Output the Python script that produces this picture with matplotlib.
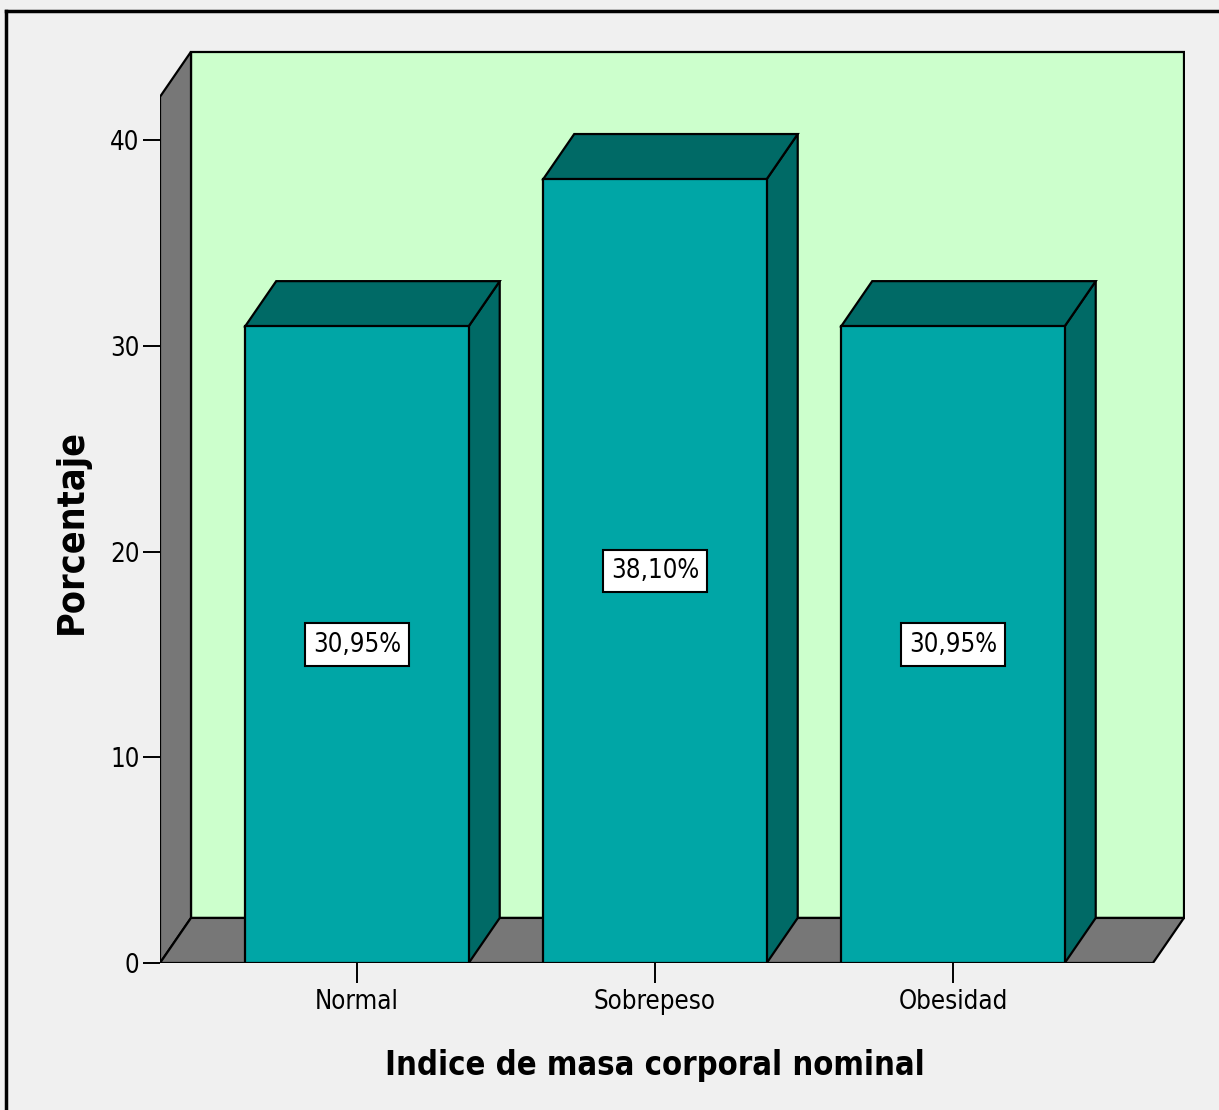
import matplotlib.pyplot as plt
from matplotlib.patches import Polygon, Rectangle
from matplotlib.lines import Line2D

categories = ['Normal', 'Sobrepeso', 'Obesidad']
percentages = [30.95, 38.10, 30.95]
value_labels = ['30,95%', '38,10%', '30,95%']
yticks = [0, 10, 20, 30, 40]

# 3D look: depth offsets (category units, percent units)
dx, dy = 0.104, 2.19
x_lo, x_hi = -0.661, 2.671
y_top = 42.1
bar_w = 0.75

wall_green = '#ccffcc'
side_gray = '#777777'
bar_front = '#00a6a6'
bar_dark = '#006a66'

font = dict(family='DejaVu Sans', fontstretch='condensed')

W, H = 1219, 1110
fig = plt.figure(figsize=(W / 100, H / 100), dpi=100, facecolor='#f0f0f0')
ax = fig.add_axes([160 / W, (H - 963) / H, 1025 / W, 913 / H])
ax.set_xlim(x_lo, x_lo + 1025 / 298)
ax.set_ylim(0, 913 / 20.575)
ax.set_facecolor('none')
for s in ax.spines.values():
    s.set_visible(False)

lw = 1.6
# back wall, left wall and floor
ax.add_patch(Rectangle((x_lo + dx, dy), x_hi - x_lo, y_top, fc=wall_green, ec='black', lw=lw))
ax.add_patch(Polygon([(x_lo, 0), (x_lo, y_top), (x_lo + dx, y_top + dy), (x_lo + dx, dy)],
                     closed=True, fc=side_gray, ec='black', lw=lw))
ax.add_patch(Polygon([(x_lo, 0), (x_lo + dx, dy), (x_hi + dx, dy), (x_hi, 0)],
                     closed=True, fc=side_gray, ec='black', lw=lw))

for i, (v, lab) in enumerate(zip(percentages, value_labels)):
    l, r = i - bar_w / 2, i + bar_w / 2
    ax.add_patch(Polygon([(r, 0), (r + dx, dy), (r + dx, v + dy), (r, v)],
                         closed=True, fc=bar_dark, ec='black', lw=lw))
    ax.add_patch(Polygon([(l, v), (l + dx, v + dy), (r + dx, v + dy), (r, v)],
                         closed=True, fc=bar_dark, ec='black', lw=lw))
    ax.add_patch(Rectangle((l, 0), bar_w, v, fc=bar_front, ec='black', lw=lw))
    ax.text(i, v / 2, lab, ha='center', va='center', fontsize=18.5, **font,
            bbox=dict(boxstyle='square,pad=0.32', fc='white', ec='black', lw=1.5))

ax.set_xticks(range(len(categories)))
ax.set_xticklabels(categories, fontsize=18.5, **font)
ax.set_yticks(yticks)
ax.set_yticklabels([str(t) for t in yticks], fontsize=18.5, **font)
ax.tick_params(axis='x', length=14.4, width=1.4, pad=4)
ax.tick_params(axis='y', length=12.2, width=1.4, pad=2.5)

ax.set_xlabel('Indice de masa corporal nominal', fontsize=23.5, fontweight='bold', **font)
ax.xaxis.set_label_coords((655 - 160) / 1025, -(1049 - 963) / 913)
fig.text(72 / W, 1 - 532 / H, 'Porcentaje', rotation=90, ha='center', va='center',
         fontsize=27, fontweight='bold', **font)

# outer frame (top and left edges)
fig.add_artist(Line2D([6 / W, 1], [1 - 11 / H, 1 - 11 / H], color='black', lw=2.5))
fig.add_artist(Line2D([6 / W, 6 / W], [0, 1 - 11 / H], color='black', lw=2.5))

fig.savefig('out.png', dpi=100, facecolor=fig.get_facecolor())
